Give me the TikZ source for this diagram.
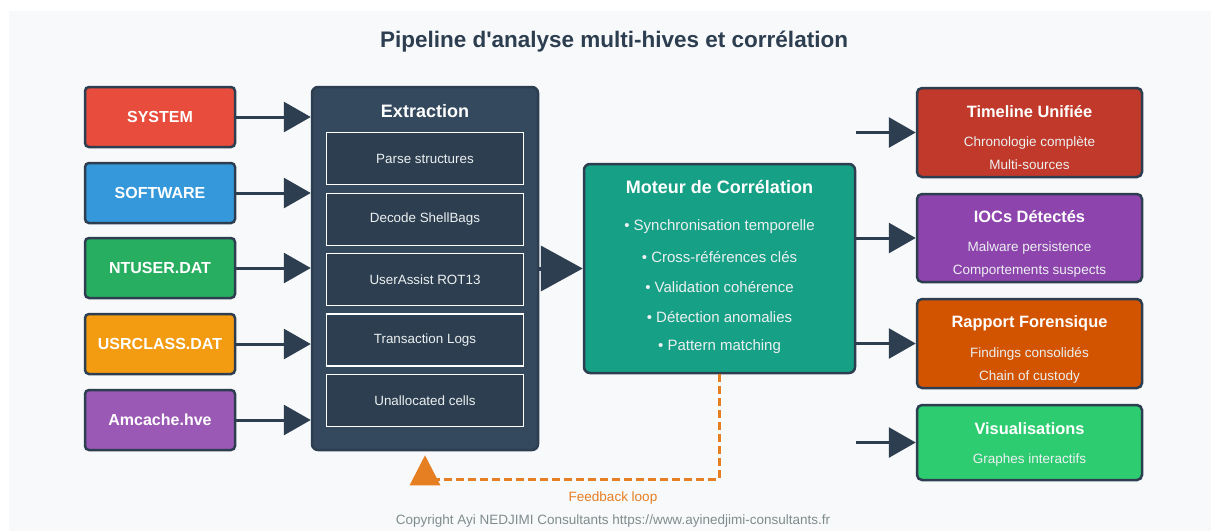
\documentclass[tikz,border=0pt]{standalone}
\usepackage{fontspec}
\setmainfont{Liberation Sans}[Ligatures=TeXOff]
\usetikzlibrary{arrows.meta,calc}
\definecolor{slate}{HTML}{2C3E50}
\definecolor{slatebox}{HTML}{34495E}
\definecolor{pagebg}{HTML}{F8F9FA}
\definecolor{sysred}{HTML}{E74C3C}
\definecolor{softblue}{HTML}{3498DB}
\definecolor{ntgreen}{HTML}{27AE60}
\definecolor{usrorange}{HTML}{F39C12}
\definecolor{amcpurple}{HTML}{9B59B6}
\definecolor{engteal}{HTML}{16A085}
\definecolor{tlred}{HTML}{C0392B}
\definecolor{iocpurple}{HTML}{8E44AD}
\definecolor{reporange}{HTML}{D35400}
\definecolor{visgreen}{HTML}{2ECC71}
\definecolor{fborange}{HTML}{E67E22}
\definecolor{lighttext}{HTML}{ECF0F1}
\definecolor{greytext}{HTML}{7F8C8D}
\tikzset{
  hive/.style={draw=slate, line width=2.5pt, rounded corners=4pt, minimum width=150pt, minimum height=60pt, text=white, font=\fontsize{16}{19}\selectfont\bfseries},
  stagebox/.style={draw=slate, line width=2.5pt, rounded corners=6pt, inner sep=0pt},
  subbox/.style={draw=white, fill=slate, line width=1.3pt, minimum width=197pt, minimum height=52pt, text=lighttext, font=\fontsize{13.4}{15}\selectfont},
  outbox/.style={draw=slate, line width=2.5pt, rounded corners=5pt, minimum width=225pt, inner sep=0pt},
  boxtitle/.style={text=white, font=\fontsize{16.4}{19}\selectfont\bfseries},
  stagetitle/.style={text=white, font=\fontsize{18}{21}\selectfont\bfseries},
  boxline/.style={text=lighttext, font=\fontsize{13.5}{15}\selectfont},
  bullet/.style={text=lighttext, font=\fontsize{15}{17}\selectfont},
  link/.style={draw=slate, line width=3pt, -{Triangle[length=27pt,width=30pt]}},
  biglink/.style={draw=slate, line width=4pt, -{Triangle[length=42pt,width=45pt]}},
  feedback/.style={draw=fborange, line width=3pt, dash pattern=on 8pt off 4pt, -{Triangle[length=30pt,width=30pt]}}
}

\begin{document}
\begin{tikzpicture}[x=1pt, y=-1pt]
		%%%%% START %%%%%
		\useasboundingbox (0,0) rectangle (1211,531);
		\fill[pagebg] (9,11) rectangle (1211,531);
		
		\node[text=slate, font=\fontsize{22.5}{26}\selectfont\bfseries] (title) at (614,42) {Pipeline d'analyse multi-hives et corrélation};
		
		% hives
		\node[hive, fill=sysred] (system) at (160,117) {SYSTEM};
		\node[hive, fill=softblue] (software) at (160,193) {SOFTWARE};
		\node[hive, fill=ntgreen] (ntuser) at (160,268) {NTUSER.DAT};
		\node[hive, fill=usrorange] (usrclass) at (160,344) {USRCLASS.DAT};
		\node[hive, fill=amcpurple] (amcache) at (160,420) {Amcache.hve};
		
		% extraction
		\node[stagebox, fill=slatebox, minimum width=226pt, minimum height=363pt] (extraction) at (425,268.5) {};
		\node[stagetitle] (extitle) at (425,111) {Extraction};
		\node[subbox] (parse) at (425,158.5) {Parse structures};
		\node[subbox] (shellbags) at (425,219.5) {Decode ShellBags};
		\node[subbox] (userassist) at (425,279.5) {UserAssist ROT13};
		\node[subbox] (translogs) at (425,340) {Transaction Logs};
		\node[subbox] (unalloc) at (425,400.5) {Unallocated cells};
		
		\draw[link] (system) -- (system -| extraction.west);
		\draw[link] (software) -- (software -| extraction.west);
		\draw[link] (ntuser) -- (ntuser -| extraction.west);
		\draw[link] (usrclass) -- (usrclass -| extraction.west);
		\draw[link] (amcache) -- (amcache -| extraction.west);
		
		% correlation engine
		\node[stagebox, fill=engteal, minimum width=271pt, minimum height=209pt] (moteur) at (719.5,268.5) {};
		\node[stagetitle] (motitle) at (719.5,187) {Moteur de Corrélation};
		\node[bullet] (sync) at (719.5,227) {• Synchronisation temporelle};
		\node[bullet] (xref) at (719.5,257) {• Cross-références clés};
		\node[bullet] (valid) at (719.5,287) {• Validation cohérence};
		\node[bullet] (anomal) at (719.5,317) {• Détection anomalies};
		\node[bullet] (pattern) at (719.5,347) {• Pattern matching};
		
		\draw[biglink] (extraction.east) -- (moteur.west);
		
		% outputs
		\node[outbox, fill=tlred, minimum height=89pt] (timeline) at (1029.5,132.5) {};
		\node[boxtitle] (tltitle) at (1029.5,112) {Timeline Unifiée};
		\node[boxline] (tlone) at (1029.5,143) {Chronologie complète};
		\node[boxline] (tltwo) at (1029.5,165) {Multi-sources};
		
		\node[outbox, fill=iocpurple, minimum height=88pt] (iocs) at (1029.5,238) {};
		\node[boxtitle] (ioctitle) at (1029.5,217) {IOCs Détectés};
		\node[boxline] (iocone) at (1029.5,248) {Malware persistence};
		\node[boxline] (ioctwo) at (1029.5,271) {Comportements suspects};
		
		\node[outbox, fill=reporange, minimum height=89pt] (rapport) at (1029.5,343.5) {};
		\node[boxtitle] (raptitle) at (1029.5,323) {Rapport Forensique};
		\node[boxline] (rapone) at (1029.5,354) {Findings consolidés};
		\node[boxline] (raptwo) at (1029.5,377) {Chain of custody};
		
		\node[outbox, fill=visgreen, minimum height=75pt] (visu) at (1029.5,442.5) {};
		\node[boxtitle] (vistitle) at (1029.5,429) {Visualisations};
		\node[boxline] (visone) at (1029.5,460) {Graphes interactifs};
		
		\coordinate (tlstart) at (856,132.5);
		\coordinate (visstart) at (856,442.5);
		\draw[link] (tlstart) -- (timeline.west);
		\draw[link] (moteur.east |- iocs.west) -- (iocs.west);
		\draw[link] (moteur.east |- rapport.west) -- (rapport.west);
		\draw[link] (visstart) -- (visu.west);
		
		% feedback
		\coordinate (fbcorner) at (719.5,479);
		\draw[feedback] (moteur.south) -- (fbcorner) -| ($(extraction.south)+(0,4)$);
		\node[text=fborange, font=\fontsize{13.5}{15}\selectfont] (fblabel) at (613,498) {Feedback loop};
		
		\node[text=greytext, font=\fontsize{13.5}{15}\selectfont] (copyright) at (613,521) {Copyright Ayi NEDJIMI Consultants https://www.ayinedjimi-consultants.fr};
		%%%%% END %%%%%
\end{tikzpicture}
\end{document}
